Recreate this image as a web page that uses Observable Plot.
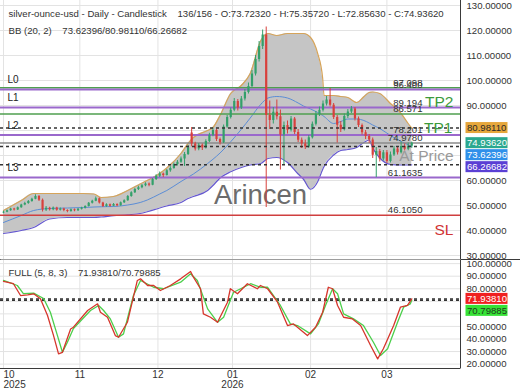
<!DOCTYPE html>
<html><head><meta charset="utf-8">
<script src="https://cdn.jsdelivr.net/npm/d3@7"></script>
<script src="https://cdn.jsdelivr.net/npm/@observablehq/plot@0.6"></script>
<style>
body{margin:0;background:#fff;}
#chart{width:520px;height:390px;overflow:hidden;position:relative;}
#chart svg{display:block;}
#chart svg.main{position:relative;z-index:2;overflow:visible;}
#chart svg.osc{position:relative;z-index:1;}
</style></head><body><div id="chart"></div>
<script>
// ---------- data ----------
const open = [47.0,47.3,47.9,48.6,48.2,49.1,50.2,50.8,51.6,52.5,53.6,52.1,48.2,48.9,48.3,49.0,48.1,48.6,48.0,47.6,48.3,47.9,48.5,48.9,49.6,50.9,51.7,52.7,51.0,49.6,50.3,49.7,50.4,49.9,51.1,51.9,53.6,55.1,56.4,57.1,57.9,58.6,58.1,60.4,61.7,62.6,62.0,63.9,64.8,66.4,67.3,68.6,70.4,79.0,74.6,72.6,74.1,73.0,75.6,78.1,80.0,76.4,75.1,81.4,85.2,88.1,91.6,89.0,92.6,95.2,97.6,102.6,108.4,113.6,118.2,86.0,84.0,87.3,85.5,78.2,82.0,80.1,84.6,79.2,76.1,74.6,73.4,77.1,82.5,86.4,88.1,90.6,92.2,90.1,85.2,82.1,80.3,85.6,87.4,88.6,84.6,82.0,79.1,77.6,76.2,70.1,71.6,68.6,71.1,67.6,70.2,72.6,71.1,73.6,72.5,73.7232];
const high = [47.7,48.2,48.9,48.9,49.4,50.5,51.3,52.0,52.9,54.3,54.0,52.6,49.6,49.3,49.4,49.3,49.0,48.9,48.3,48.6,48.6,48.8,49.3,49.9,51.2,52.1,53.4,53.0,51.3,50.7,50.6,50.8,50.7,51.4,52.3,54.0,55.5,56.9,57.7,58.4,59.1,59.0,60.8,62.3,63.4,63.0,64.4,65.5,67.0,68.0,69.4,71.2,74.0,81.2,75.3,74.8,74.6,76.3,78.9,81.0,80.6,77.0,82.2,86.0,89.0,92.8,92.4,93.6,96.4,99.0,104.0,110.0,115.6,120.2,121.4,91.8,89.2,92.2,88.2,83.4,83.8,85.6,85.2,80.4,77.0,76.2,78.0,83.4,87.6,89.4,91.8,93.6,96.8,90.8,86.0,83.6,86.6,88.4,89.6,89.2,85.4,82.6,80.0,78.4,77.0,73.2,72.4,72.0,72.0,71.4,73.6,73.2,75.4,74.6,75.0,75.3572];
const low = [46.7,47.1,47.7,47.8,48.0,48.9,49.9,50.5,51.3,52.3,51.6,47.4,47.6,47.8,47.9,47.7,47.8,47.5,47.1,47.3,47.5,47.6,48.2,48.6,49.4,50.6,51.5,50.6,49.2,49.3,49.3,49.5,49.5,49.7,50.8,51.7,53.3,54.8,56.0,56.7,57.5,57.5,57.9,60.0,61.2,61.2,61.8,63.3,64.5,65.8,66.9,65.6,70.0,73.5,71.8,71.9,72.0,72.6,75.2,77.5,75.6,74.2,74.8,80.9,84.6,87.5,87.8,88.4,91.8,94.6,97.0,101.8,107.4,112.4,49.2,80.4,82.6,84.2,64.2,66.0,78.6,79.4,78.4,75.2,72.8,72.4,72.9,76.6,81.8,85.6,87.4,89.8,89.4,84.4,75.0,79.2,79.8,84.8,86.8,83.8,81.2,78.2,76.4,74.8,68.8,61.1635,67.4,67.8,66.8,67.0,69.6,70.2,70.6,71.8,71.9,72.8563];
const close = [47.3,47.9,48.6,48.2,49.1,50.2,50.8,51.6,52.5,53.6,52.1,48.2,48.9,48.3,49.0,48.1,48.6,48.0,47.6,48.3,47.9,48.5,48.9,49.6,50.9,51.7,52.7,51.0,49.6,50.3,49.7,50.4,49.9,51.1,51.9,53.6,55.1,56.4,57.1,57.9,58.6,58.1,60.4,61.7,62.6,62.0,63.9,64.8,66.4,67.3,68.6,70.4,73.1,74.6,72.6,74.1,73.0,75.6,78.1,80.0,76.4,75.1,81.4,85.2,88.1,91.6,89.0,92.6,95.2,97.6,102.6,108.4,113.6,118.2,86.0,84.0,87.3,85.5,78.2,82.0,80.1,84.6,79.2,76.1,74.6,73.4,77.1,82.5,86.4,88.1,90.6,92.2,90.1,85.2,82.1,80.3,85.6,87.4,88.6,84.6,82.0,79.1,77.6,76.2,70.1,71.6,68.6,71.1,67.6,70.2,72.6,71.1,73.6,72.5,73.7232,74.9362];

const bandIdx  = [0,5,8.5,13,18,22.5,25.5,27.5,31,35,38.5,40.5,44,46,50,52,53.5,57.5,59,61,64,67,69.5,72.5,74.5,77,80,83,84.5,86.5,88.5,89.9,90.3,93,95,97,99.5,101.5,103,104,106,109,112,114,115];
const bbUpper  = [48.0,52.0,54.8,54.8,54.8,54.8,54.6,53.2,53.6,56.0,58.6,60.0,62.8,65.0,70.8,74.8,77.2,80.0,81.2,86.0,94.8,98.0,102.8,116.0,118.8,118.0,118.8,118.8,118.8,117.2,110.8,101.0,94.0,94.0,93.6,93.2,91.2,93.5,95.2,95.4,94.8,90.8,86.8,82.8,80.98110];
const bbMiddle = [43.2,46.0,48.0,48.8,49.0,49.2,49.4,49.5,49.6,50.2,51.2,52.2,54.6,56.0,59.6,61.3,62.6,66.8,68.5,71.0,75.5,80.5,85.0,90.5,93.0,93.6,93.0,91.0,89.8,88.6,87.2,86.0,85.6,82.8,83.6,84.6,84.6,84.0,83.0,82.2,80.8,78.0,75.6,74.3,73.62396];
const bbLower  = [38.8,40.0,41.2,44.6,45.2,45.2,45.2,45.4,45.9,46.3,46.8,47.5,49.0,49.8,51.2,52.8,53.6,56.0,58.0,61.0,63.5,65.2,66.2,66.8,68.8,69.2,67.2,62.6,60.5,56.5,59.5,64.4,65.6,70.2,72.0,72.4,73.2,75.2,76.2,73.0,69.0,66.4,66.2,66.2,66.26682];

const stochKIdx = [0,2.8,4.8,6.8,8.5,10.4,12.4,14.1,15.5,16.6,18.9,19.7,23.7,26.5,27.3,29.3,31.5,32.4,34.9,37.7,38.6,40.6,42.3,44.2,47,49.9,52.7,53.5,55.5,56.3,58.3,60.3,63.1,63.9,65.9,68.7,71.5,72.4,74.4,77.2,80,81.7,85.6,87.9,89.9,91.5,92.7,94.1,95.8,98.3,100.6,103.4,105.4,107,109.9,111.8,113.8,115];
const stochK    = [85.8,84,74.6,75.2,76,72,58.7,42.7,28.1,29.4,48,49.4,62.7,68,61.3,57.3,42.7,41.4,53.3,86.6,87.9,82.6,82.6,78.6,82.6,87.9,93.7,89.2,80,60,57.3,53.3,69.3,80,76,84,80,82.6,80,69.3,50.7,52,42.7,49.4,61.3,81.2,80,66.7,57.3,56,50.7,34.8,24.2,32.2,50.7,65.3,66.7,71.93810];
const stochDIdx = [0,3.9,5.6,8.5,11.3,13.2,15.2,16.6,18,19.7,24.5,26.8,28.2,30.1,32.4,33.8,36.6,38.6,42.3,45.1,49.9,52.7,54.6,57.5,60.3,62,64.8,66.8,69.6,72.4,74.4,78,80.8,82.8,86.5,88.7,90.7,92.7,94.1,95.8,98.6,101.4,104.2,106.2,108.2,111,112.7,114.6,115];
const stochD    = [86.6,82.6,76.2,76.5,72.2,61.3,42.7,29.4,37.4,48.3,62.7,66.7,62.7,56,41.4,44.1,74.6,86.6,81.2,80,85.2,91.9,86.6,64,53.3,57.3,77.2,80,84,81.2,81.2,66.7,52,50.7,44.1,52,66.7,80,76,60,56,50.7,37.4,26.8,32.2,53.3,65.3,68,70.79885];

const monthIdx    = [0,21.5,43.5,64.5,86.5,108];
const monthLabels = ["10\n2025","11","12","01\n2026","02","03"];
const priceGrid   = [30,40,50,60,70,80,90,100,110,120,130];
const priceLabels = [30,40,50,60,90,100,110,120,130];   // 70 and 80 sit under the value boxes
const oscGrid     = [20,30,40,50,60,70,80,90,100];
const oscLabels   = [20,30,40,50,80,90,100];             // 60 and 70 sit under the value boxes

const levelValues = [97.098,96.400,89.194,86.571,78.201,74.978,61.1635,46.105];
const levelLabels = ["97.098","96.400","89.194","86.571","78.201","74.9780","61.1635","46.1050"];
const levelKinds  = ["green","purple","purple","green","purple","gray","purple","red"];
const leftLabels  = ["L0","L1","L2","L3"];
const leftLabelAt = [100.1,93.1,81.7,65.1];

// ---------- derived tables ----------
const last = close.length - 1;
const bars = close.map((c,i)=>({i, o:open[i], h:high[i], l:low[i], c}));
const bands = bandIdx.map((i,k)=>({i, up:bbUpper[k], mid:bbMiddle[k], lo:bbLower[k]}));
const kLine = stochKIdx.map((i,k)=>({i, v:stochK[k]}));
const dLine = stochDIdx.map((i,k)=>({i, v:stochD[k]}));
const bbNow = [bbUpper[bbUpper.length-1], bbMiddle[bbMiddle.length-1], bbLower[bbLower.length-1]];
const kNow = stochK[stochK.length-1], dNow = stochD[stochD.length-1];
const levels = levelValues.map((v,k)=>({v, label:levelLabels[k], kind:levelKinds[k]}));
const months = monthIdx.map((i,k)=>({i, t:monthLabels[k]}));
const lefts = leftLabels.map((t,k)=>({t, v:leftLabelAt[k]}));

const GREEN="#33a06a", RED="#d8403c";
const kindColor = {green:"#4f9f4f", purple:"#9a68cc", gray:"#8a8a8a", red:"#cf3f3f"};
const kindWidth = {green:1.4, purple:2, gray:1.5, red:1.5};
const font = "'Liberation Sans', Arial, sans-serif";
const f5 = d => d.toFixed(5);

const header1 = `silver-ounce-usd - Daily - Candlestick\u00a0\u00a0\u00a0 ${last+21}/156 - O:${f5(open[last])} - H:${f5(high[last])} - L:${f5(low[last])} - C:${f5(close[last])}`;
const header2 = `BB (20, 2)\u00a0\u00a0\u00a0\u00a0${f5(bbNow[1])}/${f5(bbNow[0])}/${f5(bbNow[2])}`;
const header3 = `FULL (5, 8, 3)\u00a0\u00a0\u00a0\u00a0${f5(kNow)}/${f5(dNow)}`;

function valueBoxes(items){
  return (index, scales, values, dims) => {
    const g = d3.create("svg:g").attr("text-anchor","start");
    const x0 = dims.width - dims.marginRight + 5.5;
    let prev = -Infinity;
    for (const it of items){
      let y = scales.y(it.v);
      if (y < prev + 12) y = prev + 12;
      prev = y;
      g.append("rect").attr("x", x0).attr("y", y-5.5).attr("width", 42).attr("height", 11).attr("fill", it.bg);
      g.append("text").attr("x", x0+1.5).attr("y", y).attr("dy","0.35em").attr("text-anchor","start")
        .attr("fill", it.fg).attr("font-size", 9.6).text(f5(it.v));
    }
    return g.node();
  };
}
function borders(withTop){
  return (index, scales, values, dims) => {
    const g = d3.create("svg:g").attr("stroke","#3a3a3a").attr("stroke-width",1);
    const r = dims.width - dims.marginRight + 0.5;
    const t = dims.marginTop, b = dims.height - dims.marginBottom;
    g.append("line").attr("x1",r).attr("x2",r).attr("y1",t).attr("y2",b);
    if (withTop){
      g.append("line").attr("x1",0).attr("x2",dims.width).attr("y1",t-0.5).attr("y2",t-0.5);
      g.append("line").attr("x1",0).attr("x2",r).attr("y1",b+0.5).attr("y2",b+0.5);
    }
    return g.node();
  };
}

const xScale = {domain:[-0.845,128.73], axis:null};
const curve = "monotone-x";

// ---------- main panel ----------
const main = Plot.plot({
  className:"main",
  width:520, height:259, marginLeft:0, marginRight:60, marginTop:0, marginBottom:0,
  style:{fontFamily:font, fontSize:"9.6px", color:"#333", background:"transparent", overflow:"visible"},
  x: xScale,
  y: {domain:[28.4,132]},
  color: {type:"identity"},
  marks:[
    Plot.frame({fill:"#fff", stroke:null}),
    Plot.gridX(monthIdx, {stroke:"#e3e3e3", strokeOpacity:1}),
    Plot.gridY(priceGrid, {stroke:"#e3e3e3", strokeOpacity:1}),
    Plot.areaY(bands, {x:"i", y1:"lo", y2:"up", fill:"#c5c5c5", curve}),
    Plot.line(bands, {x:"i", y:"up", stroke:"#d6a45a", strokeWidth:1.2, curve}),
    Plot.line(bands, {x:"i", y:"mid", stroke:"#5b8dd6", strokeWidth:1, curve}),
    Plot.line(bands, {x:"i", y:"lo", stroke:"#6558cf", strokeWidth:1.2, curve}),
    Plot.text(["Arincen"], {text:d=>d, frameAnchor:"top-left", dx:260, dy:203, textAnchor:"middle", lineAnchor:"bottom", fill:"#6c6c6c", fontSize:27.5}),
    ...["green","purple","gray","red"].map(k => Plot.ruleY(levels.filter(d=>d.kind===k), {y:"v", stroke:kindColor[k], strokeWidth:kindWidth[k]})),
    Plot.ruleX(bars, {x:"i", y1:"l", y2:"h", stroke:d=>d.c>=d.o?GREEN:RED, strokeWidth:1}),
    Plot.ruleX(bars, {x:"i", y1:"o", y2:"c", stroke:d=>d.c>=d.o?GREEN:RED, strokeWidth:2.2}),
    Plot.ruleY(bbNow, {stroke:"#333", strokeWidth:1.5, strokeDasharray:"3,3"}),
    Plot.text(levels, {y:"v", text:"label", frameAnchor:"right", textAnchor:"end", dx:-38, dy:-2, lineAnchor:"bottom", fill:"#333", fontSize:9.6}),
    Plot.text(lefts, {y:"v", text:"t", frameAnchor:"left", textAnchor:"start", dx:7, lineAnchor:"middle", fill:"#222", fontSize:10}),
    Plot.text(["TP2"], {y:[levelValues[2]], text:d=>d, frameAnchor:"right", textAnchor:"end", dx:-7, dy:-1, lineAnchor:"bottom", fill:"#3c9a3c", fontSize:15.5}),
    Plot.text(["TP1"], {y:[levelValues[4]], text:d=>d, frameAnchor:"right", textAnchor:"end", dx:-8, dy:-1.8, lineAnchor:"bottom", fill:"#3c9a3c", fontSize:15.5}),
    Plot.text(["At Price"], {y:[close[last]], text:d=>d, frameAnchor:"right", textAnchor:"end", dx:-7, dy:18, lineAnchor:"bottom", fill:"#9a9a9a", fontSize:15.5}),
    Plot.text(["SL"], {y:[levelValues[7]], text:d=>d, frameAnchor:"right", textAnchor:"end", dx:-7, dy:19.6, lineAnchor:"bottom", fill:"#d03434", fontSize:15.5}),
    Plot.text([header1], {text:d=>d, frameAnchor:"top-left", dx:8, dy:16, textAnchor:"start", lineAnchor:"bottom", fill:"#333", fontSize:9.6}),
    Plot.text([header2], {text:d=>d, frameAnchor:"top-left", dx:8, dy:33, textAnchor:"start", lineAnchor:"bottom", fill:"#333", fontSize:9.6}),
    Plot.axisY(priceLabels, {anchor:"right", tickSize:0, tickPadding:6, tickFormat:f5, label:null, fontSize:9.6, fill:"#333"}),
    valueBoxes([
      {v:bbNow[0], bg:"#e6a73c", fg:"#2a2a2a"},
      {v:close[last], bg:"#2aa88f", fg:"#ffffff"},
      {v:bbNow[1], bg:"#2f90ea", fg:"#ffffff"},
      {v:bbNow[2], bg:"#5a3fd4", fg:"#ffffff"}
    ]),
    borders(false)
  ]
});

// ---------- oscillator panel ----------
const osc = Plot.plot({
  className:"osc",
  width:520, height:131, marginLeft:0, marginRight:60, marginTop:1, marginBottom:22,
  style:{fontFamily:font, fontSize:"9.6px", color:"#333", background:"#fff"},
  x: xScale,
  y: {domain:[16.5,102.5]},
  color: {type:"identity"},
  marks:[
    Plot.gridX(monthIdx, {stroke:"#e3e3e3", strokeOpacity:1}),
    Plot.gridY(oscGrid, {stroke:"#e3e3e3", strokeOpacity:1}),
    Plot.ruleY([kNow, dNow], {stroke:"#333", strokeWidth:1.5, strokeDasharray:"3,3"}),
    Plot.line(dLine, {x:"i", y:"v", stroke:"#4ccf4c", strokeWidth:1.3}),
    Plot.line(kLine, {x:"i", y:"v", stroke:"#d6362c", strokeWidth:1.3}),
    Plot.text([header3], {text:d=>d, frameAnchor:"top-left", dx:8, dy:15.5, textAnchor:"start", lineAnchor:"bottom", fill:"#333", fontSize:9.6}),
    Plot.text(months.slice(0,1), {x:"i", text:"t", frameAnchor:"bottom", textAnchor:"start", lineAnchor:"top", dy:2.5, fill:"#333", fontSize:10}),
    Plot.text(months.slice(1), {x:"i", text:"t", frameAnchor:"bottom", textAnchor:"middle", lineAnchor:"top", dy:2.5, fill:"#333", fontSize:10}),
    Plot.axisY(oscLabels, {anchor:"right", tickSize:0, tickPadding:6, tickFormat:f5, label:null, fontSize:9.6, fill:"#333"}),
    valueBoxes([
      {v:kNow, bg:"#f02020", fg:"#ffffff"},
      {v:dNow, bg:"#36e236", fg:"#1f3d1f"}
    ]),
    borders(true)
  ]
});

const root = document.getElementById("chart");
root.appendChild(main);
root.appendChild(osc);
</script>
</body></html>
